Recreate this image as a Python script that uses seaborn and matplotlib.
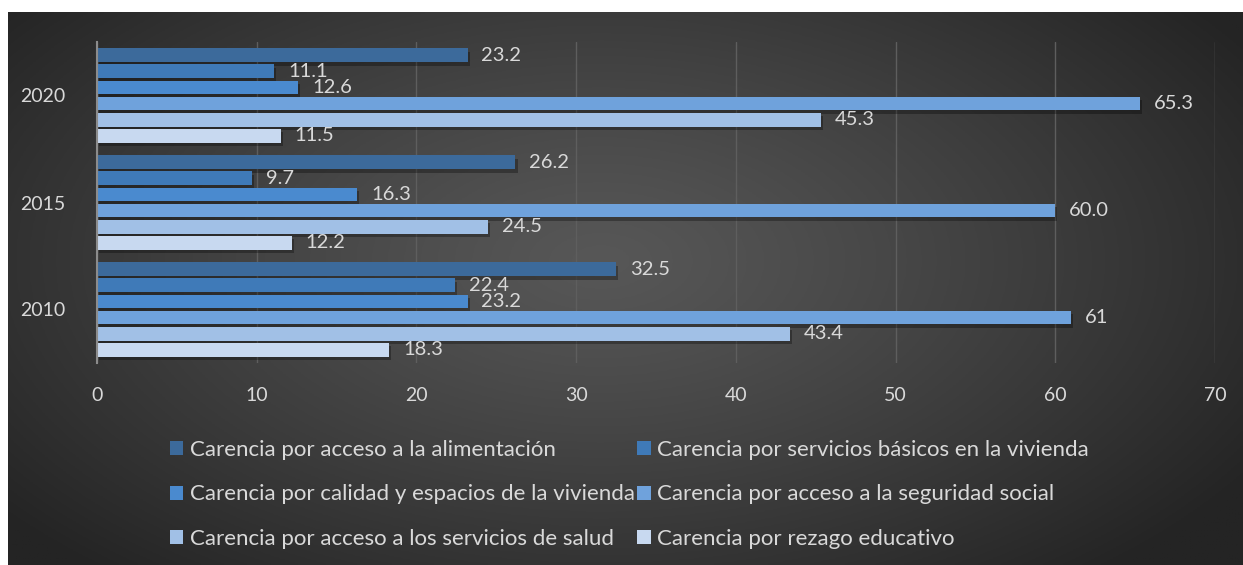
import numpy as np
import pandas as pd
import matplotlib
matplotlib.use("Agg")
import matplotlib.pyplot as plt
import matplotlib.patheffects as pe
from matplotlib.patches import Patch
import seaborn as sns

years = ["2020", "2015", "2010"]
series = [
    "Carencia por acceso a la alimentación",
    "Carencia por servicios básicos en la vivienda",
    "Carencia por calidad y espacios de la vivienda",
    "Carencia por acceso a la seguridad social",
    "Carencia por acceso a los servicios de salud",
    "Carencia por rezago educativo",
]
alimentacion = [23.2, 26.2, 32.5]
servicios_basicos = [11.1, 9.7, 22.4]
calidad_espacios = [12.6, 16.3, 23.2]
seguridad_social = [65.3, 60.0, 61.0]
servicios_salud = [45.3, 24.5, 43.4]
rezago_educativo = [11.5, 12.2, 18.3]
value_labels = [
    ["23.2", "26.2", "32.5"],
    ["11.1", "9.7", "22.4"],
    ["12.6", "16.3", "23.2"],
    ["65.3", "60.0", "61"],
    ["45.3", "24.5", "43.4"],
    ["11.5", "12.2", "18.3"],
]
x_ticks = [0, 10, 20, 30, 40, 50, 60, 70]

colors = ["#3C6A9B", "#3F7AB8", "#4A8ACF", "#6FA2DC", "#A1C0E6", "#C8D9F0"]
text_color = "#D9D9D9"

all_values = [alimentacion, servicios_basicos, calidad_espacios,
              seguridad_social, servicios_salud, rezago_educativo]
rows = []
for s, vals in zip(series, all_values):
    for y, v in zip(years, vals):
        rows.append({"year": y, "serie": s, "valor": v})
df = pd.DataFrame(rows)

sns.set_theme(style="dark")
plt.rcParams["font.family"] = ["Lato", "DejaVu Sans"]

W, H = 1243, 565
fig = plt.figure(figsize=(W / 100, H / 100), dpi=100, facecolor="white")

# background radial gradient panel
x0 = 8 / W
top = 1 - 12 / H
bg = fig.add_axes([x0, 0, 1 - x0, top], zorder=0)
nx, ny = 400, 200
gx = np.linspace(0, 1, nx)
gy = np.linspace(0, 1, ny)
GX, GY = np.meshgrid(gx, gy)
r = np.sqrt(((GX - 0.48) / 0.62) ** 2 + ((GY - 0.45) / 0.75) ** 2)
r = np.clip(r, 0, 1)
lvl = (0x57 - (0x57 - 0x24) * r ** 1.2) / 255.0
img = np.dstack([lvl, lvl, lvl])
bg.imshow(img, aspect="auto", extent=[0, 1, 0, 1], origin="upper")
bg.set_axis_off()

ax = fig.add_axes([97 / W, 1 - 363 / H, (1215 - 97) / W, (363 - 42) / H], zorder=1)
ax.set_facecolor("none")

sns.barplot(data=df, x="valor", y="year", hue="serie", order=years,
            hue_order=series, palette=colors, orient="h", width=0.9,
            gap=0.133, ax=ax, legend=False, saturation=1, errorbar=None,
            linewidth=0)

shadow = [pe.SimplePatchShadow(offset=(1.5, -2.5), shadow_rgbFace="black", alpha=0.3),
          pe.Normal()]
for cont, labs in zip(ax.containers, value_labels):
    for p in cont.patches:
        p.set_path_effects(shadow)
    ax.bar_label(cont, labels=labs, padding=10, color=text_color, fontsize=14.5)

ax.set_xlim(0, 70)
ax.set_ylim(2.5, -0.5)
ax.set_xticks(x_ticks)
ax.set_xticklabels([str(t) for t in x_ticks])
ax.set_xlabel("")
ax.set_ylabel("")
ax.grid(axis="x", color="#5E5E5E", linewidth=1)
ax.grid(axis="y", visible=False)
ax.set_axisbelow(True)
for s in ["top", "right", "bottom"]:
    ax.spines[s].set_visible(False)
ax.spines["left"].set_color("#8C8C8C")
ax.spines["left"].set_linewidth(1.5)
ax.tick_params(axis="x", colors=text_color, labelsize=14, pad=17, length=0)
ax.tick_params(axis="y", colors=text_color, labelsize=14, pad=23, length=0)

# legend laid out row-wise like the original (2 columns)
order = [0, 2, 4, 1, 3, 5]
handles = [Patch(facecolor=colors[i], edgecolor="none") for i in order]
labels = [series[i] for i in order]
leg = fig.legend(handles, labels, ncol=2, loc="upper left",
                 bbox_to_anchor=(170 / W, 1 - 440 / H), frameon=False,
                 fontsize=16, labelcolor=text_color, handlelength=0.6,
                 handleheight=0.6, handletextpad=0.3, columnspacing=0.1,
                 labelspacing=1.1, borderpad=0, borderaxespad=0)

fig.savefig("out.png", dpi=100, facecolor="white")
